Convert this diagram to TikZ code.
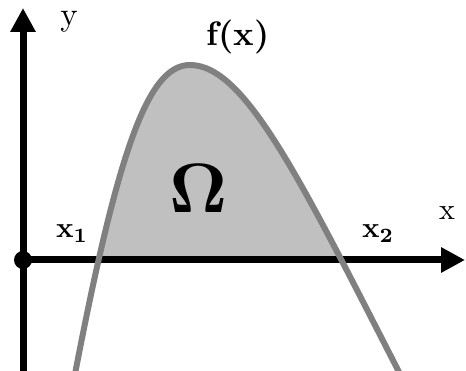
\documentclass[tikz,border=0pt]{standalone}
\usetikzlibrary{arrows.meta}
\definecolor{curvegray}{HTML}{808080}
\definecolor{fillgray}{HTML}{C0C0C0}
\begin{document}
\begin{tikzpicture}[x=1pt,y=-1pt,
  axisline/.style={line width=7pt,-{Triangle[length=24pt,width=24pt]}},
  curveline/.style={line width=6pt,draw=curvegray},
  lbl/.style={inner sep=0pt,outer sep=0pt}]
\useasboundingbox (0,0) rectangle (466,371);
\begin{scope}
  \clip (0,0) rectangle (466,260);
  \fill[fillgray] (75,374) .. controls (120,140) and (150,65) .. (190,65) .. controls (245,65) and (300,179) .. (400,374) -- cycle;
\end{scope}
\coordinate (O) at (23,260);
\coordinate (ybot) at (23,380);
\coordinate (ytop) at (23,8);
\coordinate (xend) at (465,260);
\draw[axisline] (ybot) -- (ytop);
\draw[axisline] (O) -- (xend);
\fill (O) circle[radius=9pt];
\draw[curveline] (75,374) .. controls (120,140) and (150,65) .. (190,65) .. controls (245,65) and (300,179) .. (400,374);
\node[lbl,scale=3.3] (ylab) at (69,22) {y};
\node[lbl,scale=3.0] (xlab) at (447,213.5) {x};
\node[lbl,scale=3.4] (flab) at (238,37) {\bfseries f(x)};
\node[lbl,scale=2.9,anchor=base west] (x1lab) at (56,238) {$\mathbf{x_1}$};
\node[lbl,scale=2.9,anchor=base west] (x2lab) at (362,238) {$\mathbf{x_2}$};
\node[lbl,scale=7.0] (omega) at (199,188) {$\mathbf{\Omega}$};
\end{tikzpicture}
\end{document}
